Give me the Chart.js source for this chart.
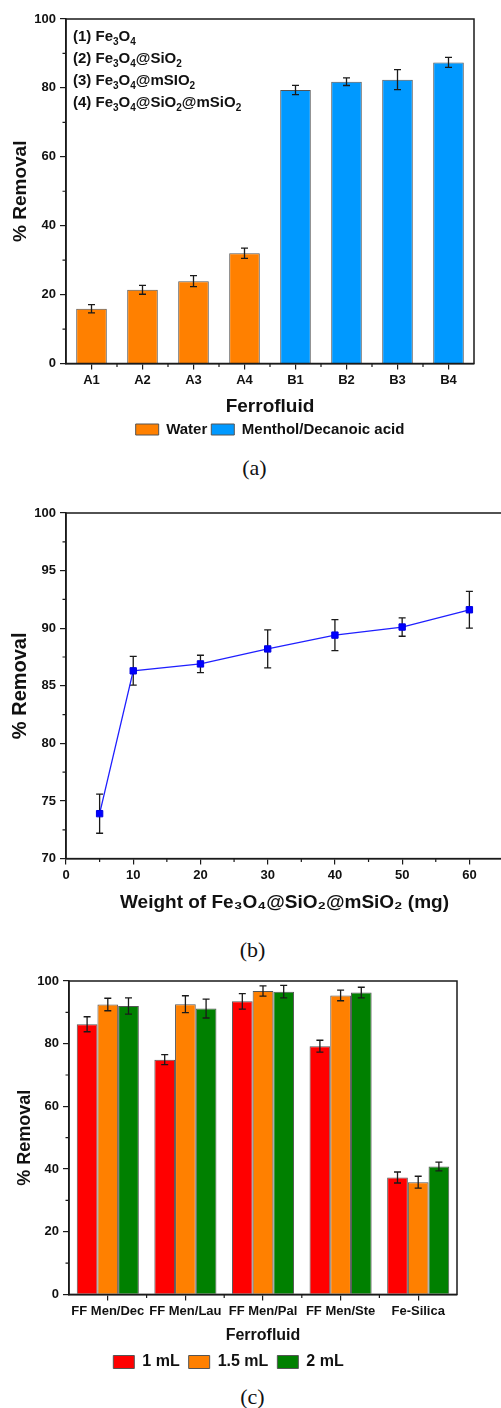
<!DOCTYPE html>
<html lang="en">
<head>
<meta charset="UTF-8">
<title>% Removal</title>
<script src="https://cdn.jsdelivr.net/npm/chart.js"></script>
<style>
    html, body { margin: 0; padding: 0; background: #fff; overflow: hidden; }
    body { width: 501px; height: 1408px; position: relative; }
    .panel { position: absolute; left: 0; }
    .caption {
        position: absolute;
        width: 501px;
        text-align: center;
        font-family: "Liberation Serif", "Times New Roman", serif;
        font-size: 22px;
        line-height: 26px;
        color: #111;
    }
</style>
</head>
<body>
<div class="panel" style="top:0"><canvas id="chartA" width="501" height="447"></canvas></div>
<div class="caption" style="top:455px;left:4px">(a)</div>
<div class="panel" style="top:480px"><canvas id="chartB" width="520" height="434"></canvas></div>
<div class="caption" style="top:937px;left:2px">(b)</div>
<div class="panel" style="top:960px"><canvas id="chartC" width="501" height="420"></canvas></div>
<div class="caption" style="top:1384px;left:2px">(c)</div>

<script>
const FONT = "'Liberation Sans', Arial, sans-serif";
const INK = '#1a1a1a';

// (a) ferrofluid type
const ferroLabels = ['A1', 'A2', 'A3', 'A4', 'B1', 'B2', 'B3', 'B4'];
const waterRemoval = [15.9, 21.4, 23.9, 32.0];
const waterErr = [1.2, 1.3, 1.6, 1.5];
const mdaRemoval = [79.4, 81.8, 82.4, 87.4];
const mdaErr = [1.35, 1.1, 2.9, 1.45];
// "_n" marks a subscript digit
const materialNotes = ['(1) Fe_3O_4', '(2) Fe_3O_4@SiO_2', '(3) Fe_3O_4@mSIO_2', '(4) Fe_3O_4@SiO_2@mSiO_2'];

// (b) sorbent weight
const sorbentMg = [5, 10, 20, 30, 40, 50, 60];
const weightRemoval = [73.9, 86.3, 86.9, 88.2, 89.4, 90.1, 91.6];
const weightErr = [1.7, 1.25, 0.75, 1.65, 1.35, 0.8, 1.6];

// (c) ferrofluid volume
const fluidLabels = ['FF Men/Dec', 'FF Men/Lau', 'FF Men/Pal', 'FF Men/Ste', 'Fe-Silica'];
const vol1 = [86.2, 74.9, 93.5, 79.2, 37.3];
const vol1Err = [2.4, 1.6, 2.45, 1.9, 1.75];
const vol15 = [92.5, 92.6, 96.8, 95.4, 35.8];
const vol15Err = [2.0, 2.7, 1.65, 1.7, 1.9];
const vol2 = [92.0, 91.2, 96.6, 96.3, 40.8];
const vol2Err = [2.6, 3.0, 2.0, 1.7, 1.4];

// error bars, drawn from dataset.errors
function drawErrors(chart, opts) {
    const ctx = chart.ctx;
    const ys = chart.scales.y;
    const cap = opts.cap || 3.5;
    ctx.save();
    ctx.strokeStyle = INK;
    ctx.lineWidth = 1.3;
    chart.data.datasets.forEach((ds, di) => {
        if (!ds.errors) return;
        const meta = chart.getDatasetMeta(di);
        meta.data.forEach((el, i) => {
            const raw = ds.data[i];
            const v = (raw !== null && typeof raw === 'object') ? raw.y : raw;
            const e = ds.errors[i];
            if (v == null || e == null) return;
            const x = el.x;
            const top = ys.getPixelForValue(v + e);
            const bot = ys.getPixelForValue(v - e);
            ctx.beginPath();
            ctx.moveTo(x, top); ctx.lineTo(x, bot);
            ctx.moveTo(x - cap, top); ctx.lineTo(x + cap, top);
            ctx.moveTo(x - cap, bot); ctx.lineTo(x + cap, bot);
            ctx.stroke();
        });
    });
    ctx.restore();
}

const errorBars = {
    id: 'errorBars',
    beforeDatasetsDraw(chart, args, opts) { if (opts.behind) drawErrors(chart, opts); },
    afterDatasetsDraw(chart, args, opts) { if (!opts.behind) drawErrors(chart, opts); }
};

// box round the plot + minor ticks
const frame = {
    id: 'frame',
    afterDraw(chart, args, opts) {
        const ctx = chart.ctx;
        const a = chart.chartArea;
        ctx.save();
        ctx.strokeStyle = INK;
        ctx.lineWidth = 1.5;
        ctx.strokeRect(a.left, a.top, a.right - a.left, a.bottom - a.top);
        ctx.lineWidth = 1.2;
        ctx.beginPath();
        (opts.yMinor || []).forEach(v => {
            const p = chart.scales.y.getPixelForValue(v);
            ctx.moveTo(a.left, p); ctx.lineTo(a.left - 3.5, p);
        });
        const xs = chart.scales.x;
        if (opts.xMinor === 'between') {
            for (let i = 0; i < xs.ticks.length - 1; i++) {
                const p = (xs.getPixelForTick(i) + xs.getPixelForTick(i + 1)) / 2;
                ctx.moveTo(p, a.bottom); ctx.lineTo(p, a.bottom + 3.5);
            }
        } else {
            (opts.xMinor || []).forEach(v => {
                const p = xs.getPixelForValue(v);
                ctx.moveTo(p, a.bottom); ctx.lineTo(p, a.bottom + 3.5);
            });
        }
        ctx.stroke();
        ctx.restore();
    }
};

// the material list in the corner of (a), with real subscripts
const notes = {
    id: 'notes',
    afterDraw(chart, args, opts) {
        if (!opts.lines) return;
        const ctx = chart.ctx;
        const a = chart.chartArea;
        ctx.save();
        ctx.fillStyle = '#111';
        ctx.textBaseline = 'alphabetic';
        opts.lines.forEach((line, i) => {
            let x = a.left + 7;
            const y = a.top + 21.5 + i * 22;
            line.split(/(_\d)/).forEach(part => {
                if (!part) return;
                if (part[0] === '_') {
                    ctx.font = 'bold 10px ' + FONT;
                    ctx.fillText(part.slice(1), x, y + 4);
                } else {
                    ctx.font = 'bold 15px ' + FONT;
                    ctx.fillText(part, x, y);
                }
                x += ctx.measureText(part[0] === '_' ? part.slice(1) : part).width;
            });
        });
        ctx.restore();
    }
};

function yAxis(min, max, step, titleSize, titlePad, width) {
    return {
        min: min, max: max,
        ticks: { stepSize: step, color: '#111', padding: 4, font: { family: FONT, size: 13, weight: 'bold' } },
        grid: { drawOnChartArea: false, tickLength: 6, color: INK, lineWidth: 1.2 },
        border: { color: INK, width: 1.5 },
        title: { display: true, text: '% Removal', color: '#111', padding: { top: titlePad, bottom: 0 },
                 font: { family: FONT, size: titleSize, weight: 'bold' } },
        afterFit(s) { s.width = width; }
    };
}

function xTitle(text, size) {
    return { display: true, text: text, color: '#111', padding: 0, font: { family: FONT, size: size, weight: 'bold' } };
}

// ---------- (a) ----------
new Chart(document.getElementById('chartA'), {
    type: 'bar',
    data: {
        labels: ferroLabels,
        datasets: [
            { label: 'Water', data: [...waterRemoval, null, null, null, null],
              errors: [...waterErr, null, null, null, null],
              backgroundColor: '#ff8000', borderColor: '#555', borderWidth: 1, grouped: false },
            { label: 'Menthol/Decanoic acid', data: [null, null, null, null, ...mdaRemoval],
              errors: [null, null, null, null, ...mdaErr],
              backgroundColor: '#0099ff', borderColor: '#555', borderWidth: 1, grouped: false }
        ]
    },
    options: {
        responsive: false, animation: false,
        categoryPercentage: 1, barPercentage: 0.6,
        layout: { padding: { top: 19, right: 27, left: 0, bottom: 0 } },
        scales: {
            x: {
                ticks: { color: '#111', padding: 3, font: { family: FONT, size: 13, weight: 'bold' } },
                grid: { drawOnChartArea: false, offset: false, tickLength: 6, color: INK, lineWidth: 1.2 },
                border: { color: INK, width: 1.5 },
                title: xTitle('Ferrofluid', 19),
                afterFit(s) { s.height = 54.5; }
            },
            y: yAxis(0, 100, 20, 19, 9, 66)
        },
        plugins: {
            legend: { position: 'bottom', fullSize: false,
                      labels: { boxWidth: 23, boxHeight: 11, padding: 4, color: '#111',
                                font: { family: FONT, size: 15, weight: 'bold' } } },
            tooltip: { enabled: false },
            errorBars: { cap: 3.5 },
            frame: { yMinor: [10, 30, 50, 70, 90], xMinor: 'between' },
            notes: { lines: materialNotes }
        }
    },
    plugins: [errorBars, frame, notes]
});

// ---------- (b) ----------
new Chart(document.getElementById('chartB'), {
    type: 'line',
    data: {
        datasets: [{
            label: '% Removal',
            data: sorbentMg.map((m, i) => ({ x: m, y: weightRemoval[i] })),
            errors: weightErr,
            borderColor: '#1f1fff', borderWidth: 1.3,
            backgroundColor: '#0000ff', pointBorderColor: '#0000e0', pointBorderWidth: 1,
            pointStyle: 'rect', pointRadius: 4.5, tension: 0
        }]
    },
    options: {
        responsive: false, animation: false,
        layout: { padding: { top: 33, right: 17, left: 0, bottom: 0 } },
        scales: {
            x: {
                type: 'linear', min: 0, max: 65,
                ticks: { stepSize: 10, color: '#111', padding: 3, font: { family: FONT, size: 13, weight: 'bold' } },
                afterBuildTicks(s) { s.ticks = s.ticks.filter(t => t.value % 10 === 0); },
                grid: { drawOnChartArea: false, tickLength: 6, color: INK, lineWidth: 1.2 },
                border: { color: INK, width: 1.5 },
                title: xTitle('Weight of Fe₃O₄@SiO₂@mSiO₂ (mg)', 19),
                afterFit(s) { s.height = 55.4; }
            },
            y: yAxis(70, 100, 5, 20, 8, 66)
        },
        plugins: {
            legend: { display: false },
            tooltip: { enabled: false },
            errorBars: { cap: 3.5, behind: true },
            frame: { yMinor: [72.5, 77.5, 82.5, 87.5, 92.5, 97.5], xMinor: [5, 15, 25, 35, 45, 55] }
        }
    },
    plugins: [errorBars, frame]
});

// ---------- (c) ----------
new Chart(document.getElementById('chartC'), {
    type: 'bar',
    data: {
        labels: fluidLabels,
        datasets: [
            { label: '1 mL', data: vol1, errors: vol1Err, backgroundColor: '#ff0000', borderColor: '#555', borderWidth: 1 },
            { label: '1.5 mL', data: vol15, errors: vol15Err, backgroundColor: '#ff8000', borderColor: '#555', borderWidth: 1 },
            { label: '2 mL', data: vol2, errors: vol2Err, backgroundColor: '#008000', borderColor: '#555', borderWidth: 1 }
        ]
    },
    options: {
        responsive: false, animation: false,
        categoryPercentage: 0.8, barPercentage: 1,
        layout: { padding: { top: 21, right: 44, left: 0, bottom: 0 } },
        scales: {
            x: {
                ticks: { color: '#111', padding: 3, maxRotation: 0, autoSkip: false,
                         font: { family: FONT, size: 13, weight: 'bold' } },
                grid: { drawOnChartArea: false, offset: false, tickLength: 6, color: INK, lineWidth: 1.2 },
                border: { color: INK, width: 1.5 },
                title: xTitle('Ferrofluid', 16),
                afterFit(s) { s.height = 50.6; }
            },
            y: yAxis(0, 100, 20, 18, 14, 69)
        },
        plugins: {
            legend: { position: 'bottom',
                      labels: { boxWidth: 21, boxHeight: 13, padding: 9, color: '#111',
                                font: { family: FONT, size: 16, weight: 'bold' } } },
            tooltip: { enabled: false },
            errorBars: { cap: 3.5 },
            frame: { yMinor: [10, 30, 50, 70, 90], xMinor: 'between' }
        }
    },
    plugins: [errorBars, frame]
});
</script>
</body>
</html>
